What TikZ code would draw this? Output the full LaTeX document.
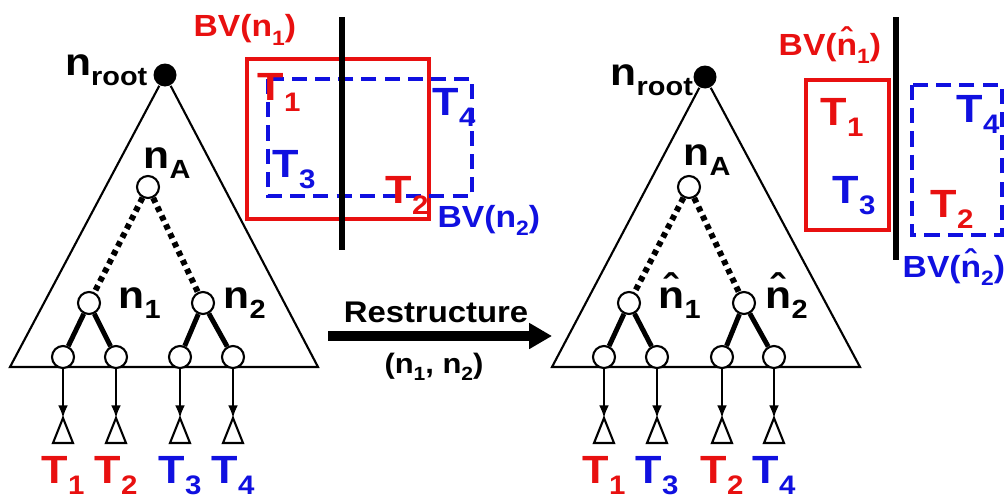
\documentclass[tikz,border=0pt]{standalone}
\usepackage{fontspec}
\setmainfont{Liberation Sans}[FakeStretch=1.1]
\usetikzlibrary{arrows.meta}
\definecolor{tred}{RGB}{232,16,16}
\definecolor{tblue}{RGB}{16,16,224}
\newcommand{\lsub}[1]{\raisebox{-0.28em}{\scalebox{0.68}{#1}}}
\tikzset{
  tnode/.style={circle,draw,fill=white,inner sep=0pt,minimum size=2.2mm,line width=0.6pt},
  rootdot/.style={circle,fill=black,inner sep=0pt,minimum size=2.3mm},
  tri/.style={line width=0.6pt},
  dotedge/.style={line width=1.7pt,dash pattern=on 1.5pt off 1.3pt},
  thickedge/.style={line width=1.4pt},
  leafarr/.style={line width=0.6pt,-{Latex[length=3.6pt,width=2.8pt]}},
  lbl/.style={inner sep=0pt,anchor=base west,font=\fontsize{11}{12}\selectfont\bfseries},
  tlbl/.style={inner sep=0pt,anchor=base,font=\fontsize{11.2}{12}\selectfont\bfseries},
  boxt/.style={tlbl,anchor=base west},
  bvlbl/.style={inner sep=0pt,anchor=base west,font=\fontsize{8.7}{10}\selectfont\bfseries},
  redbox/.style={draw=tred,line width=1.1pt},
  bluebox/.style={draw=tblue,line width=1.1pt,dash pattern=on 4.3pt off 2.3pt},
  splitline/.style={line width=1.8pt},
  bigarrow/.style={line width=2.8pt,-{Triangle[length=6.5pt,width=7pt]}},
  leaftri/.pic={\draw[line width=0.6pt] (0,0) -- (-10,25) -- (10,25) -- cycle;}
}
\begin{document}
\begin{tikzpicture}[x=0.1mm,y=-0.1mm]
\useasboundingbox (0,0) rectangle (1007,499);

% left tree
\node[rootdot] (rootL) at (165,75) {};
\node[lbl,anchor=base east] (rootLlbl) at (148,75) {n\lsub{root}};
\coordinate (blL) at (10,367);
\coordinate (brL) at (318,367);
\draw[tri] (rootL) -- (blL) -- (brL) -- (rootL);

\node[tnode] (nAL) at (148,187) {};
\node[tnode] (n1L) at (89,303) {};
\node[tnode] (n2L) at (203,303) {};
\draw[dotedge] (nAL) -- (n1L);
\draw[dotedge] (nAL) -- (n2L);

\foreach \x/\i in {63/1,116/2,180/3,233/4} {
  \node[tnode] (lL\i) at (\x,357) {};
  \coordinate (aL\i) at (\x,418);
  \pic at (aL\i) {leaftri};
  \draw[leafarr] (lL\i) -- (aL\i);
}
\draw[thickedge] (n1L) -- (lL1);
\draw[thickedge] (n1L) -- (lL2);
\draw[thickedge] (n2L) -- (lL3);
\draw[thickedge] (n2L) -- (lL4);

\node[lbl] (nALlbl) at (143,168) {n\lsub{A}};
\node[lbl] (n1Llbl) at (118,308) {n\lsub{1}};
\node[lbl] (n2Llbl) at (223,308) {n\lsub{2}};

\node[tlbl,text=tred] (tL1) at (63,483) {T\lsub{1}};
\node[tlbl,text=tred] (tL2) at (116,483) {T\lsub{2}};
\node[tlbl,text=tblue] (tL3) at (180,483) {T\lsub{3}};
\node[tlbl,text=tblue] (tL4) at (233,483) {T\lsub{4}};

% bounding volumes before
\draw[redbox] (247,59) rectangle (429,219);
\draw[bluebox] (268,79) rectangle (472,196);
\draw[splitline] (342,17) -- (342,250);
\node[bvlbl,text=tred] (bv1L) at (193,37) {BV(n\lsub{1})};
\node[bvlbl,text=tblue] (bv2L) at (437,227) {BV(n\lsub{2})};
\node[boxt,text=tred] (bT1L) at (257,100) {T\lsub{1}};
\node[boxt,text=tblue] (bT4L) at (432,115) {T\lsub{4}};
\node[boxt,text=tblue] (bT3L) at (272,177) {T\lsub{3}};
\node[boxt,text=tred] (bT2L) at (385,203) {T\lsub{2}};

% restructure arrow
\coordinate (arrS) at (328,336);
\coordinate (arrE) at (552,336);
\draw[bigarrow] (arrS) -- (arrE);
\node[inner sep=0pt,anchor=base,font=\fontsize{8.5}{10}\selectfont\bfseries] (restr) at (436,322) {Restructure};
\node[inner sep=0pt,anchor=base,font=\fontsize{8}{10}\selectfont\bfseries] (pair) at (434,373) {(n\lsub{1}, n\lsub{2})};

% right tree
\node[rootdot] (rootR) at (705,77) {};
\node[lbl] (rootRlbl) at (610,85) {n\lsub{root}};
\coordinate (blR) at (552,367);
\coordinate (brR) at (860,367);
\draw[tri] (rootR) -- (blR) -- (brR) -- (rootR);

\node[tnode] (nAR) at (689,187) {};
\node[tnode] (n1R) at (629,303) {};
\node[tnode] (n2R) at (744,303) {};
\draw[dotedge] (nAR) -- (n1R);
\draw[dotedge] (nAR) -- (n2R);

\foreach \x/\i in {604/1,657/2,722/3,774/4} {
  \node[tnode] (lR\i) at (\x,357) {};
  \coordinate (aR\i) at (\x,418);
  \pic at (aR\i) {leaftri};
  \draw[leafarr] (lR\i) -- (aR\i);
}
\draw[thickedge] (n1R) -- (lR1);
\draw[thickedge] (n1R) -- (lR2);
\draw[thickedge] (n2R) -- (lR3);
\draw[thickedge] (n2R) -- (lR4);

\node[lbl] (nARlbl) at (683,165) {n\lsub{A}};
\node[lbl] (n1Rlbl) at (658,308) {\^{n}\lsub{1}};
\node[lbl] (n2Rlbl) at (765,308) {\^{n}\lsub{2}};

\node[tlbl,text=tred] (tR1) at (604,483) {T\lsub{1}};
\node[tlbl,text=tblue] (tR2) at (657,483) {T\lsub{3}};
\node[tlbl,text=tred] (tR3) at (722,483) {T\lsub{2}};
\node[tlbl,text=tblue] (tR4) at (774,483) {T\lsub{4}};

% bounding volumes after
\draw[redbox] (806,80) rectangle (889,230);
\draw[bluebox] (912,85) rectangle (1002,235);
\draw[splitline] (896,17) -- (896,260);
\node[bvlbl,text=tred] (bv1R) at (778,55) {BV(\^{n}\lsub{1})};
\node[bvlbl,text=tblue] (bv2R) at (902,277) {BV(\^{n}\lsub{2})};
\node[boxt,text=tred] (bT1R) at (820,125) {T\lsub{1}};
\node[boxt,text=tblue] (bT3R) at (832,203) {T\lsub{3}};
\node[boxt,text=tblue] (bT4R) at (956,122) {T\lsub{4}};
\node[boxt,text=tred] (bT2R) at (930,217) {T\lsub{2}};
\end{tikzpicture}
\end{document}
